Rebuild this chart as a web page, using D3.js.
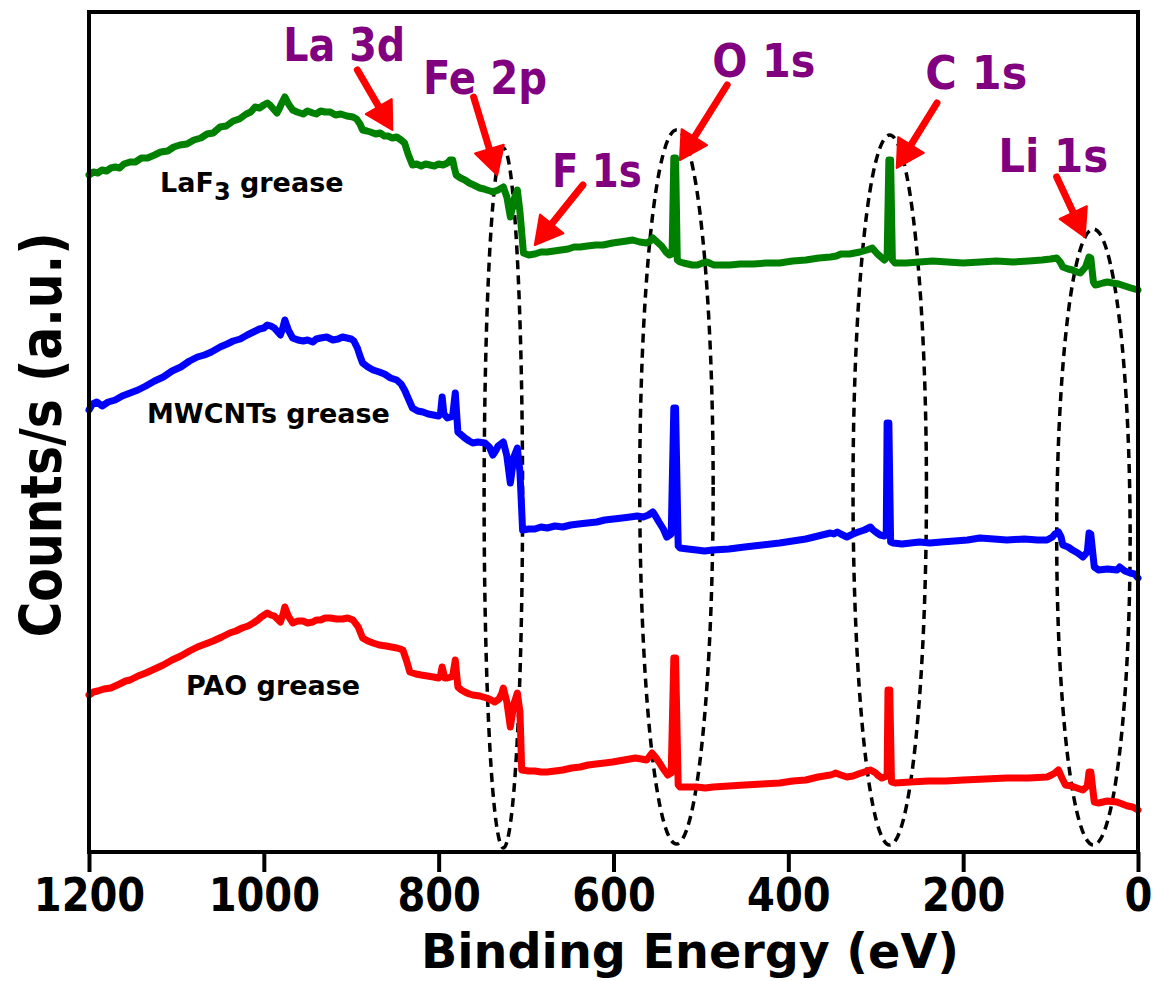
<!DOCTYPE html>
<html>
<head>
<meta charset="utf-8">
<script src="https://cdn.jsdelivr.net/npm/d3@7"></script>
<style>
  body { margin: 0; background: #fff; }
  svg text { font-family: "DejaVu Sans", Verdana, sans-serif; font-weight: bold; }
</style>
</head>
<body>
<svg id="chart" width="1159" height="981"></svg>
<script>
// XPS survey spectra, binding energy (eV) vs. intensity (a.u., curves stacked)
const energyTicks = [1200, 1000, 800, 600, 400, 200, 0];

const laf3Grease = [
  [1200, 677], [1195, 680], [1190, 679], [1185, 682], [1180, 681], [1175, 684], [1170, 685],
  [1165, 684], [1160, 688], [1153, 690], [1147, 690], [1140, 694], [1133, 694], [1125, 697],
  [1118, 700], [1110, 701], [1103, 705], [1096, 707], [1088, 708], [1080, 712], [1072, 714],
  [1065, 718], [1058, 719], [1050, 725], [1043, 726], [1035, 731], [1028, 733], [1020, 738],
  [1015, 740], [1010, 745], [1005, 744], [1000, 747], [996, 749], [993, 747], [989, 743],
  [985, 739], [982, 744], [980, 748], [976, 755], [973, 750], [971, 747], [967, 742],
  [962, 740], [955, 738], [950, 741], [944, 739], [940, 738], [935, 741], [930, 740],
  [924, 740], [918, 737], [912, 738], [905, 736], [898, 735], [894, 733], [890, 728],
  [887, 722], [882, 721], [878, 720], [872, 718], [867, 719], [862, 716], [858, 716],
  [853, 714], [848, 715], [843, 712], [839, 709], [835, 698], [830, 687], [825, 688],
  [820, 686], [815, 688], [810, 687], [805, 686], [800, 688], [795, 687], [790, 689],
  [787, 692], [784, 692], [782, 684], [780, 677], [775, 674], [770, 672], [765, 669],
  [760, 667], [753, 664], [748, 663], [745, 662], [741, 661], [738, 660], [732, 662],
  [726, 665], [722, 655], [718, 635], [714, 652], [710, 662], [707, 640], [703, 599],
  [697, 597], [690, 598], [683, 600], [676, 600], [668, 601], [660, 602], [652, 603],
  [645, 605], [638, 605], [630, 606], [620, 607], [612, 607], [601, 609], [593, 610],
  [585, 611], [578, 612], [570, 610], [562, 609], [558, 611], [555, 614], [550, 610],
  [545, 606], [540, 600], [536, 597], [533, 598], [531, 694], [529, 694], [527, 592],
  [524, 590], [520, 589], [515, 588], [510, 587], [504, 587], [498, 589], [493, 590],
  [488, 588], [485, 587], [476, 587], [467, 587], [455, 588], [440, 588], [425, 589],
  [410, 589], [395, 591], [380, 592], [365, 594], [352, 595], [345, 596], [340, 598],
  [330, 598], [318, 600], [310, 602], [304, 604], [298, 598], [290, 592], [287, 595],
  [285, 692], [283, 692], [281, 592], [278, 589], [265, 589], [250, 590], [235, 591],
  [218, 590], [200, 589], [180, 590], [162, 591], [143, 590], [125, 591], [110, 592],
  [100, 593], [93, 594], [89, 590], [86, 585], [80, 583], [75, 582], [70, 580], [66, 579],
  [60, 585], [56, 595], [54, 594], [51, 570], [49, 567], [44, 568], [40, 569], [35, 570],
  [29, 569], [22, 568], [15, 566], [8, 564], [0, 562]
];

const mwcntsGrease = [
  [1200, 442], [1196, 448], [1191, 450], [1185, 446], [1178, 450], [1170, 452], [1162, 456],
  [1153, 459], [1144, 462], [1135, 466], [1125, 471], [1115, 475], [1105, 481], [1095, 485],
  [1085, 491], [1076, 495], [1068, 497], [1060, 500], [1050, 505], [1042, 508], [1035, 511],
  [1027, 513], [1019, 517], [1012, 520], [1005, 523], [1000, 524], [996, 527], [992, 526],
  [988, 524], [981, 517], [978, 525], [976, 532], [972, 522], [967, 514], [961, 512],
  [955, 511], [950, 512], [944, 510], [940, 513], [935, 514], [928, 515], [921, 512],
  [915, 513], [910, 515], [905, 514], [900, 513], [897, 511], [893, 504], [890, 496],
  [887, 489], [881, 485], [875, 482], [868, 480], [862, 478], [855, 474], [848, 472],
  [843, 468], [839, 462], [834, 452], [830, 444], [824, 441], [818, 440], [812, 438],
  [806, 437], [800, 436], [798, 438], [796, 455], [794, 438], [790, 434], [786, 435],
  [784, 436], [781, 459], [778, 420], [774, 417], [770, 414], [765, 411], [761, 409],
  [755, 410], [747, 409], [742, 405], [738, 397], [735, 401], [732, 406], [729, 408],
  [726, 410], [722, 396], [718, 369], [714, 395], [710, 404], [707, 380], [704, 322],
  [697, 323], [690, 323], [683, 325], [676, 324], [667, 326], [658, 325], [649, 327],
  [640, 328], [630, 329], [619, 330], [610, 332], [600, 333], [590, 334], [581, 335],
  [573, 336], [566, 335], [560, 337], [555, 340], [552, 336], [548, 330], [543, 323],
  [539, 315], [534, 318], [531, 444], [529, 444], [526, 306], [524, 304], [515, 303],
  [505, 302], [496, 301], [486, 302], [468, 303], [450, 305], [430, 307], [410, 309],
  [395, 311], [380, 313], [366, 316], [352, 319], [348, 318], [344, 320], [340, 318],
  [333, 315], [326, 318], [320, 320], [313, 322], [306, 325], [303, 322], [300, 320],
  [295, 317], [290, 316], [288, 318], [287, 429], [285, 429], [283, 310], [280, 309],
  [270, 308], [260, 309], [250, 310], [238, 309], [225, 310], [210, 311], [195, 312],
  [181, 314], [165, 313], [150, 312], [130, 313], [115, 312], [104, 312], [98, 315],
  [95, 318], [91, 320], [88, 315], [86, 307], [80, 305], [75, 302], [69, 299], [63, 295],
  [58, 300], [56, 319], [54, 318], [50, 285], [45, 282], [35, 283], [24, 282], [21, 285],
  [15, 281], [9, 279], [4, 278], [0, 274]
];

const paoGrease = [
  [1200, 157], [1195, 160], [1190, 161], [1183, 163], [1175, 164], [1165, 168], [1158, 171],
  [1153, 172], [1144, 176], [1135, 179], [1125, 183], [1115, 187], [1105, 192], [1095, 196],
  [1085, 201], [1076, 205], [1067, 208], [1058, 211], [1048, 215], [1039, 219], [1032, 221],
  [1025, 224], [1018, 226], [1012, 229], [1007, 232], [1003, 235], [996, 239], [992, 237],
  [988, 236], [981, 230], [978, 238], [976, 245], [972, 236], [967, 229], [961, 231],
  [955, 231], [950, 229], [944, 230], [940, 232], [935, 232], [930, 234], [924, 234],
  [917, 233], [910, 233], [904, 234], [898, 232], [892, 225], [887, 214], [881, 211],
  [875, 209], [868, 207], [860, 206], [854, 205], [848, 204], [844, 203], [841, 202],
  [837, 192], [833, 180], [826, 178], [820, 177], [813, 176], [806, 175], [800, 174],
  [798, 176], [796, 185], [793, 174], [790, 174], [786, 175], [784, 176], [781, 192],
  [778, 165], [774, 162], [770, 160], [765, 158], [761, 157], [753, 156], [745, 154],
  [740, 152], [736, 150], [731, 153], [728, 158], [726, 164], [722, 150], [718, 125],
  [714, 148], [710, 159], [707, 140], [705, 82], [697, 81], [690, 81], [683, 80],
  [676, 80], [667, 81], [658, 82], [648, 84], [638, 85], [629, 87], [620, 88], [610, 89],
  [601, 90], [588, 92], [575, 94], [568, 93], [562, 92], [556, 99], [552, 95], [548, 90],
  [543, 83], [538, 77], [534, 79], [531, 194], [529, 194], [526, 67], [524, 65], [515, 65],
  [505, 65], [495, 64], [486, 65], [468, 66], [450, 67], [430, 68], [410, 69], [395, 71],
  [380, 72], [366, 75], [352, 77], [348, 78], [346, 79], [340, 77], [333, 75], [326, 76],
  [320, 78], [313, 80], [306, 82], [300, 79], [298, 77], [293, 74], [287, 76], [286, 162],
  [284, 162], [282, 70], [278, 69], [260, 70], [240, 71], [220, 71], [200, 72], [175, 73],
  [150, 74], [125, 74], [104, 75], [99, 77], [95, 79], [91, 82], [87, 74], [83, 67],
  [76, 66], [70, 64], [63, 62], [58, 66], [56, 80], [54, 80], [50, 50], [45, 49], [35, 51],
  [24, 50], [18, 48], [12, 46], [6, 45], [0, 42]
];

const seriesNames = ["LaF3 grease", "MWCNTs grease", "PAO grease"];
const seriesColors = ["#008000", "#0000ff", "#ff0000"];

// Peak annotations: label anchor and arrow (tail -> head), in energy / intensity units
const peakNames = ["La 3d", "Fe 2p", "F 1s", "O 1s", "C 1s", "Li 1s"];
const peakLabelAt = [[908, 791], [747, 758], [619, 665], [428, 775], [185, 763], [97, 680]];
const peakArrowFrom = [[893, 782], [760, 755], [635, 667], [470, 767], [230, 749], [93, 675]];
const peakArrowTo = [[853, 722], [733, 677], [690, 607], [524, 692], [276, 684], [61, 615]];

// Dashed regions: centre energy, half-width (eV), centre intensity, half-height
const regionCentres = [726, 528, 284, 51];
const regionHalfWidths = [22, 42, 42, 42];
const regionMids = [354, 365, 362, 315];
const regionHalfHeights = [350, 357, 355, 308];

const svg = d3.select("#chart");
const plotLeft = 89, plotRight = 1138, plotTop = 12, plotBottom = 852;

const x = d3.scaleLinear().domain([1200, 0]).range([plotLeft, plotRight]);
const y = d3.scaleLinear().domain([0, 840]).range([plotBottom, plotTop]);

// dashed ellipses behind the spectra
regionCentres.forEach((c, i) => {
  const cx = x(c), cy = y(regionMids[i]);
  const rx = Math.abs(x(c + regionHalfWidths[i]) - cx);
  const ry = Math.abs(y(regionMids[i] + regionHalfHeights[i]) - cy);
  svg.append("ellipse")
    .attr("cx", cx).attr("cy", cy).attr("rx", rx).attr("ry", ry)
    .attr("fill", "none").attr("stroke", "#000")
    .attr("stroke-width", 3.5).attr("stroke-dasharray", "9,6");
});

// spectra
const line = d3.line().x(d => x(d[0])).y(d => y(d[1]));
[laf3Grease, mwcntsGrease, paoGrease].forEach((s, i) => {
  svg.append("path")
    .datum(s)
    .attr("d", line)
    .attr("fill", "none")
    .attr("stroke", seriesColors[i])
    .attr("stroke-width", 7)
    .attr("stroke-linejoin", "round")
    .attr("stroke-linecap", "round");
});

// series labels
const lab1 = svg.append("text").attr("x", 160).attr("y", 192).attr("font-size", 27).attr("fill", "#000");
lab1.append("tspan").text("LaF");
lab1.append("tspan").attr("dy", 8).attr("font-size", 24).text("3");
lab1.append("tspan").attr("dy", -8).text(" grease");
svg.append("text").attr("x", 147).attr("y", 423).attr("font-size", 27).attr("fill", "#000").text(seriesNames[1]);
svg.append("text").attr("x", 186).attr("y", 695).attr("font-size", 27).attr("fill", "#000").text(seriesNames[2]);

// arrows
peakArrowFrom.forEach((p, i) => {
  const x0 = x(p[0]), y0 = y(p[1]);
  const x1 = x(peakArrowTo[i][0]), y1 = y(peakArrowTo[i][1]);
  const dx = x1 - x0, dy = y1 - y0, len = Math.hypot(dx, dy);
  const ux = dx / len, uy = dy / len;
  const headLen = 27, headHalf = 15;
  const bx = x1 - ux * headLen, by = y1 - uy * headLen;
  svg.append("line")
    .attr("x1", x0).attr("y1", y0).attr("x2", bx + ux * 4).attr("y2", by + uy * 4)
    .attr("stroke", "#ff0000").attr("stroke-width", 7).attr("stroke-linecap", "round");
  svg.append("path")
    .attr("d", `M${x1},${y1}L${bx - uy * headHalf},${by + ux * headHalf}L${bx + uy * headHalf},${by - ux * headHalf}Z`)
    .attr("fill", "#ff0000").attr("stroke", "#ff0000").attr("stroke-width", 2).attr("stroke-linejoin", "round");
});

// peak labels
const peakWidths = [122, 124, 90, 103, 102, 110];
peakNames.forEach((n, i) => {
  svg.append("text")
    .attr("x", x(peakLabelAt[i][0])).attr("y", y(peakLabelAt[i][1]))
    .attr("text-anchor", "middle")
    .attr("font-size", 47)
    .attr("fill", "#800080")
    .attr("textLength", peakWidths[i])
    .attr("lengthAdjust", "spacingAndGlyphs")
    .text(n);
});

// frame
svg.append("rect")
  .attr("x", plotLeft).attr("y", plotTop).attr("width", plotRight - plotLeft).attr("height", plotBottom - plotTop)
  .attr("fill", "none").attr("stroke", "#000").attr("stroke-width", 4);

// bottom axis
const axis = svg.append("g")
  .attr("transform", `translate(0,${plotBottom})`)
  .call(d3.axisBottom(x).tickValues(energyTicks).tickFormat(d3.format("d")).tickSize(20).tickPadding(6));
axis.select(".domain").remove();
axis.selectAll(".tick line").attr("stroke", "#000").attr("stroke-width", 4);
axis.selectAll(".tick text")
  .attr("fill", "#000")
  .attr("font-family", "DejaVu Sans, sans-serif")
  .attr("font-weight", "bold")
  .attr("font-size", 46)
  .attr("transform", "scale(0.87,1)")
  .attr("x", 0);

// axis titles
svg.append("text")
  .attr("x", 690).attr("y", 968)
  .attr("text-anchor", "middle")
  .attr("font-size", 48)
  .attr("fill", "#000")
  .attr("textLength", 538).attr("lengthAdjust", "spacingAndGlyphs")
  .text("Binding Energy (eV)");

svg.append("text")
  .attr("transform", "translate(61,435) rotate(-90)")
  .attr("text-anchor", "middle")
  .attr("font-size", 57)
  .attr("fill", "#000")
  .attr("textLength", 405).attr("lengthAdjust", "spacingAndGlyphs")
  .text("Counts/s (a.u.)");
</script>
</body>
</html>
